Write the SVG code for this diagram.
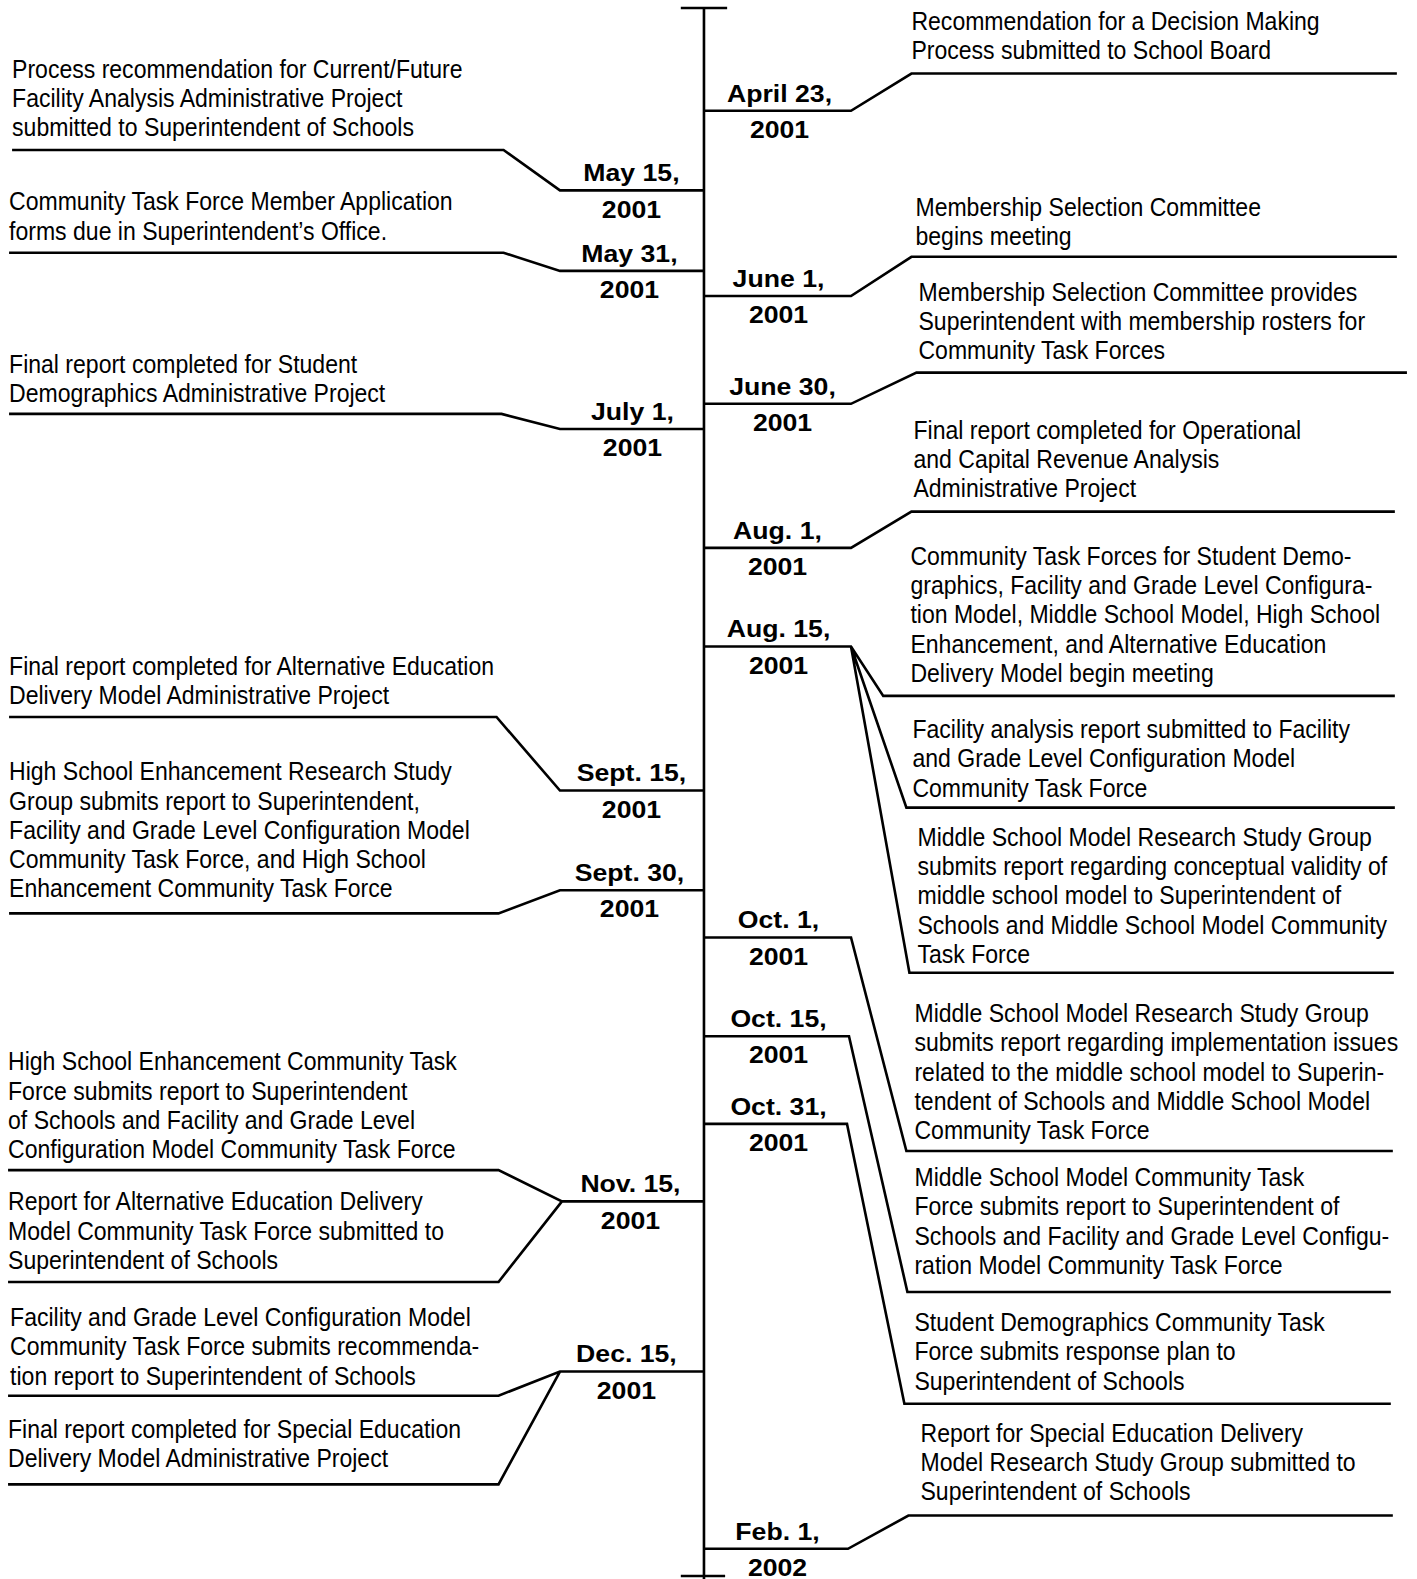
<svg xmlns="http://www.w3.org/2000/svg" width="1417" height="1579" viewBox="0 0 1417 1579">
<style>
.t{font-family:"Liberation Sans",Arial,sans-serif;font-size:24.8px;fill:#000}
.d{font-family:"Liberation Sans",Arial,sans-serif;font-size:24.5px;font-weight:bold;fill:#000;text-anchor:middle}
.c{fill:none;stroke:#000;stroke-width:2.6;stroke-linejoin:miter}
</style>
<rect width="1417" height="1579" fill="#fff"/>
<g transform="scale(1.00711 1.00702)">
<g id="connectors">
<path class="c" d="M699 8V1568M676 8H722M676 1565H720"/>
<path class="c" d="M699 110H845L905 73H1387"/>
<path class="c" d="M699 294H845L905 255H1387"/>
<path class="c" d="M699 401H845L910 370H1397"/>
<path class="c" d="M699 544H845L905 508H1385"/>
<path class="c" d="M699 642H845L877 691H1385M845 642L900 802H1385M845 642L903 966H1384"/>
<path class="c" d="M699 931H845L900 1143H1383"/>
<path class="c" d="M699 1029H843L901 1283H1381"/>
<path class="c" d="M699 1116H841L898 1394H1381"/>
<path class="c" d="M699 1538H842L902 1505H1383"/>
<path class="c" d="M699 189H556L500 149H12"/>
<path class="c" d="M699 269H556L500 251H9"/>
<path class="c" d="M699 426H556L498 411H9"/>
<path class="c" d="M699 785H556L493 712H9"/>
<path class="c" d="M699 884H556L495 907H9"/>
<path class="c" d="M699 1193H558L495 1162H8M558 1193L495 1273H8"/>
<path class="c" d="M699 1362H556L495 1386H8M556 1362L495 1474H8"/>
</g>
<g id="apr23">
<text class="d" transform="translate(774 101) scale(1.08 1)"><tspan x="0" y="0">April 23,</tspan><tspan x="0" y="36">2001</tspan></text>
<text class="t" transform="translate(905 30) scale(0.922 1)"><tspan x="0" y="0">Recommendation for a Decision Making</tspan><tspan x="0" y="29">Process submitted to School Board</tspan></text>
</g>
<g id="may15">
<text class="d" transform="translate(627 180) scale(1.08 1)"><tspan x="0" y="0">May 15,</tspan><tspan x="0" y="36">2001</tspan></text>
<text class="t" transform="translate(12 77) scale(0.922 1)"><tspan x="0" y="0">Process recommendation for Current/Future</tspan><tspan x="0" y="29">Facility Analysis Administrative Project</tspan><tspan x="0" y="58">submitted to Superintendent of Schools</tspan></text>
</g>
<g id="may31">
<text class="d" transform="translate(625 260) scale(1.08 1)"><tspan x="0" y="0">May 31,</tspan><tspan x="0" y="36">2001</tspan></text>
<text class="t" transform="translate(9 209) scale(0.922 1)"><tspan x="0" y="0">Community Task Force Member Application</tspan><tspan x="0" y="29">forms due in Superintendent’s Office.</tspan></text>
</g>
<g id="jun1">
<text class="d" transform="translate(773 285) scale(1.08 1)"><tspan x="0" y="0">June 1,</tspan><tspan x="0" y="36">2001</tspan></text>
<text class="t" transform="translate(909 214) scale(0.922 1)"><tspan x="0" y="0">Membership Selection Committee</tspan><tspan x="0" y="29">begins meeting</tspan></text>
</g>
<g id="jun30">
<text class="d" transform="translate(777 392) scale(1.08 1)"><tspan x="0" y="0">June 30,</tspan><tspan x="0" y="36">2001</tspan></text>
<text class="t" transform="translate(912 299) scale(0.922 1)"><tspan x="0" y="0">Membership Selection Committee provides</tspan><tspan x="0" y="29">Superintendent with membership rosters for</tspan><tspan x="0" y="58">Community Task Forces</tspan></text>
</g>
<g id="jul1">
<text class="d" transform="translate(628 417) scale(1.08 1)"><tspan x="0" y="0">July 1,</tspan><tspan x="0" y="36">2001</tspan></text>
<text class="t" transform="translate(9 370) scale(0.922 1)"><tspan x="0" y="0">Final report completed for Student</tspan><tspan x="0" y="29">Demographics Administrative Project</tspan></text>
</g>
<g id="aug1">
<text class="d" transform="translate(772 535) scale(1.08 1)"><tspan x="0" y="0">Aug. 1,</tspan><tspan x="0" y="36">2001</tspan></text>
<text class="t" transform="translate(907 436) scale(0.922 1)"><tspan x="0" y="0">Final report completed for Operational</tspan><tspan x="0" y="29">and Capital Revenue Analysis</tspan><tspan x="0" y="58">Administrative Project</tspan></text>
</g>
<g id="aug15">
<text class="d" transform="translate(773 633) scale(1.08 1)"><tspan x="0" y="0">Aug. 15,</tspan><tspan x="0" y="36">2001</tspan></text>
<text class="t" transform="translate(904 561) scale(0.922 1)"><tspan x="0" y="0">Community Task Forces for Student Demo-</tspan><tspan x="0" y="29">graphics, Facility and Grade Level Configura-</tspan><tspan x="0" y="58">tion Model, Middle School Model, High School</tspan><tspan x="0" y="87">Enhancement, and Alternative Education</tspan><tspan x="0" y="116">Delivery Model begin meeting</tspan></text>
<text class="t" transform="translate(906 733) scale(0.922 1)"><tspan x="0" y="0">Facility analysis report submitted to Facility</tspan><tspan x="0" y="29">and Grade Level Configuration Model</tspan><tspan x="0" y="58">Community Task Force</tspan></text>
<text class="t" transform="translate(911 840) scale(0.922 1)"><tspan x="0" y="0">Middle School Model Research Study Group</tspan><tspan x="0" y="29">submits report regarding conceptual validity of</tspan><tspan x="0" y="58">middle school model to Superintendent of</tspan><tspan x="0" y="87">Schools and Middle School Model Community</tspan><tspan x="0" y="116">Task Force</tspan></text>
</g>
<g id="sep15">
<text class="d" transform="translate(627 776) scale(1.08 1)"><tspan x="0" y="0">Sept. 15,</tspan><tspan x="0" y="36">2001</tspan></text>
<text class="t" transform="translate(9 670) scale(0.922 1)"><tspan x="0" y="0">Final report completed for Alternative Education</tspan><tspan x="0" y="29">Delivery Model Administrative Project</tspan></text>
</g>
<g id="sep30">
<text class="d" transform="translate(625 875) scale(1.08 1)"><tspan x="0" y="0">Sept. 30,</tspan><tspan x="0" y="36">2001</tspan></text>
<text class="t" transform="translate(9 775) scale(0.922 1)"><tspan x="0" y="0">High School Enhancement Research Study</tspan><tspan x="0" y="29">Group submits report to Superintendent,</tspan><tspan x="0" y="58">Facility and Grade Level Configuration Model</tspan><tspan x="0" y="87">Community Task Force, and High School</tspan><tspan x="0" y="116">Enhancement Community Task Force</tspan></text>
</g>
<g id="oct1">
<text class="d" transform="translate(773 922) scale(1.08 1)"><tspan x="0" y="0">Oct. 1,</tspan><tspan x="0" y="36">2001</tspan></text>
<text class="t" transform="translate(908 1015) scale(0.922 1)"><tspan x="0" y="0">Middle School Model Research Study Group</tspan><tspan x="0" y="29">submits report regarding implementation issues</tspan><tspan x="0" y="58">related to the middle school model to Superin-</tspan><tspan x="0" y="87">tendent of Schools and Middle School Model</tspan><tspan x="0" y="116">Community Task Force</tspan></text>
</g>
<g id="oct15">
<text class="d" transform="translate(773 1020) scale(1.08 1)"><tspan x="0" y="0">Oct. 15,</tspan><tspan x="0" y="36">2001</tspan></text>
<text class="t" transform="translate(908 1178) scale(0.922 1)"><tspan x="0" y="0">Middle School Model Community Task</tspan><tspan x="0" y="29">Force submits report to Superintendent of</tspan><tspan x="0" y="58">Schools and Facility and Grade Level Configu-</tspan><tspan x="0" y="87">ration Model Community Task Force</tspan></text>
</g>
<g id="oct31">
<text class="d" transform="translate(773 1107) scale(1.08 1)"><tspan x="0" y="0">Oct. 31,</tspan><tspan x="0" y="36">2001</tspan></text>
<text class="t" transform="translate(908 1322) scale(0.922 1)"><tspan x="0" y="0">Student Demographics Community Task</tspan><tspan x="0" y="29">Force submits response plan to</tspan><tspan x="0" y="58">Superintendent of Schools</tspan></text>
</g>
<g id="nov15">
<text class="d" transform="translate(626 1184) scale(1.08 1)"><tspan x="0" y="0">Nov. 15,</tspan><tspan x="0" y="36">2001</tspan></text>
<text class="t" transform="translate(8 1063) scale(0.922 1)"><tspan x="0" y="0">High School Enhancement Community Task</tspan><tspan x="0" y="29">Force submits report to Superintendent</tspan><tspan x="0" y="58">of Schools and Facility and Grade Level</tspan><tspan x="0" y="87">Configuration Model Community Task Force</tspan></text>
<text class="t" transform="translate(8 1202) scale(0.922 1)"><tspan x="0" y="0">Report for Alternative Education Delivery</tspan><tspan x="0" y="29">Model Community Task Force submitted to</tspan><tspan x="0" y="58">Superintendent of Schools</tspan></text>
</g>
<g id="dec15">
<text class="d" transform="translate(622 1353) scale(1.08 1)"><tspan x="0" y="0">Dec. 15,</tspan><tspan x="0" y="36">2001</tspan></text>
<text class="t" transform="translate(10 1317) scale(0.922 1)"><tspan x="0" y="0">Facility and Grade Level Configuration Model</tspan><tspan x="0" y="29">Community Task Force submits recommenda-</tspan><tspan x="0" y="58">tion report to Superintendent of Schools</tspan></text>
<text class="t" transform="translate(8 1428) scale(0.922 1)"><tspan x="0" y="0">Final report completed for Special Education</tspan><tspan x="0" y="29">Delivery Model Administrative Project</tspan></text>
</g>
<g id="feb1">
<text class="d" transform="translate(772 1529) scale(1.08 1)"><tspan x="0" y="0">Feb. 1,</tspan><tspan x="0" y="36">2002</tspan></text>
<text class="t" transform="translate(914 1432) scale(0.922 1)"><tspan x="0" y="0">Report for Special Education Delivery</tspan><tspan x="0" y="29">Model Research Study Group submitted to</tspan><tspan x="0" y="58">Superintendent of Schools</tspan></text>
</g>
</g>
</svg>
